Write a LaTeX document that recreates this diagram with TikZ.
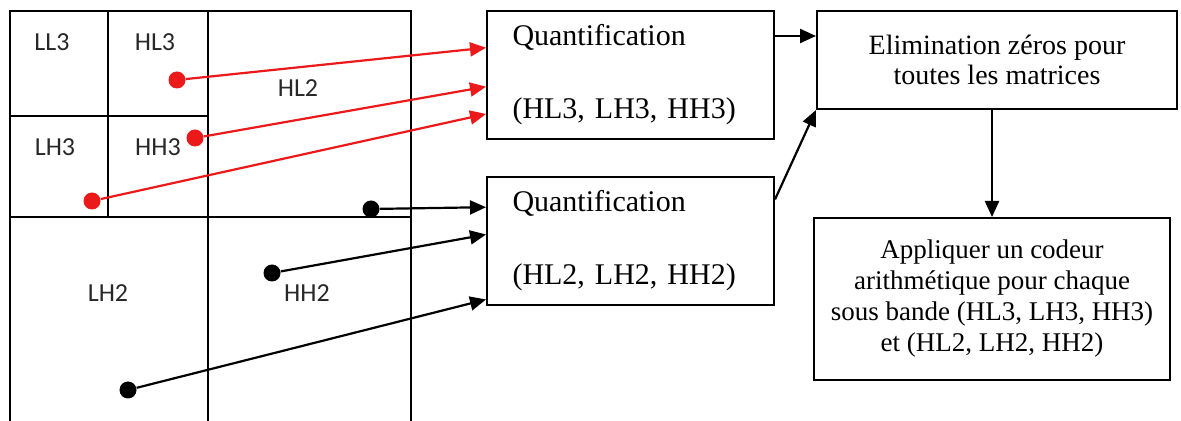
\documentclass[tikz,border=0pt]{standalone}
\usepackage{fontspec}
\setmainfont{Liberation Serif}
\newfontfamily\bandfont{Carlito}
\usetikzlibrary{arrows.meta,calc}
\definecolor{bandred}{RGB}{235,25,25}
\definecolor{bandgray}{RGB}{40,40,40}
\tikzstyle{blob}=[circle, fill, inner sep=0pt, minimum size=8.5pt]
\newcommand{\blob}[1]{\node[blob,#1]}
\tikzstyle{band}=[text=bandgray, font=\bandfont\fontsize{13}{15}\selectfont]
\tikzstyle{stage}=[draw, line width=1pt, inner sep=0pt]
\tikzstyle{quant}=[stage, minimum width=143.5pt, minimum height=64pt,
  inner xsep=12.5pt, text width=118pt, align=left,
  font=\fontsize{15}{18}\selectfont]
\tikzstyle{link}=[line width=1.1pt, -{Triangle[length=8pt,width=7pt]}]

\begin{document}
\begin{tikzpicture}[x=0.5pt,y=-0.5pt]
  \useasboundingbox (0,0) rectangle (1181,421);
  \clip (0,0) rectangle (1181,421);
  % decomposition
  \draw[line width=1.1pt] (10,440) -- (10,11) -- (411,11) -- (411,440);
  \draw[line width=1.1pt] (10,217) -- (411,217);
  \draw[line width=1pt] (208,11) -- (208,440);
  \draw[line width=1.4pt] (108,11) -- (108,217);
  \draw[line width=1.1pt] (10,116) -- (208,116);
  \node[band] (ll3) at (52,42) {LL3};
  \node[band] (hl3) at (155,42) {HL3};
  \node[band] (hl2) at (298,88) {HL2};
  \node[band] (lh3) at (55,147) {LH3};
  \node[band] (hh3) at (158,147) {HH3};
  \node[band] (lh2) at (108,293) {LH2};
  \node[band] (hh2) at (307,293) {HH2};
  % steps
  \node[quant] (q1) at (630.5,75) {Quantification\\[18.5pt](HL3, LH3, HH3)};
  \node[quant] (q2) at (630.5,241) {Quantification\\[18.5pt](HL2, LH2, HH2)};
  \node[stage, minimum width=180pt, minimum height=49pt, align=center,
    font=\fontsize{14}{15}\selectfont] (elim) at (997,60)
    {Elimination zéros pour\\toutes les matrices};
  \node[stage, minimum width=178pt, minimum height=81pt, align=center,
    font=\fontsize{13.5}{15.5}\selectfont] (code) at (992,299)
    {Appliquer un codeur\\arithmétique pour chaque\\sous bande (HL3, LH3, HH3)\\et (HL2, LH2, HH2)};
  % points
  \blob{bandred} (p1) at (177,80) {};
  \blob{bandred} (p2) at (195,138) {};
  \blob{bandred} (p3) at (92,201) {};
  \blob{black} (p4) at (371,209) {};
  \blob{black} (p5) at (272,273) {};
  \blob{black} (p6) at (128,390) {};
  \coordinate (i1) at ($(q1.north west)!0.29!(q1.south west)$);
  \coordinate (i2) at ($(q1.north west)!0.59!(q1.south west)$);
  \coordinate (i3) at ($(q1.north west)!0.8!(q1.south west)$);
  \coordinate (i4) at ($(q2.north west)!0.24!(q2.south west)$);
  \coordinate (i5) at ($(q2.north west)!0.45!(q2.south west)$);
  \coordinate (i6) at ($(q2.north west)!0.95!(q2.south west)$);
  \coordinate (o1) at ($(q1.north east)!0.2!(q1.south east)$);
  \coordinate (o2) at ($(q2.north east)!0.18!(q2.south east)$);
  \path[link, bandred]
    (p1) edge (i1)
    (p2) edge (i2)
    (p3) edge (i3)
  ;
  \path[link]
    (p4) edge (i4)
    (p5) edge (i5)
    (p6) edge (i6)
    (o1) edge (o1 -| elim.west)
    (o2) edge (elim.south west)
    (code.north |- elim.south) edge (code.north)
  ;
\end{tikzpicture}
\end{document}
